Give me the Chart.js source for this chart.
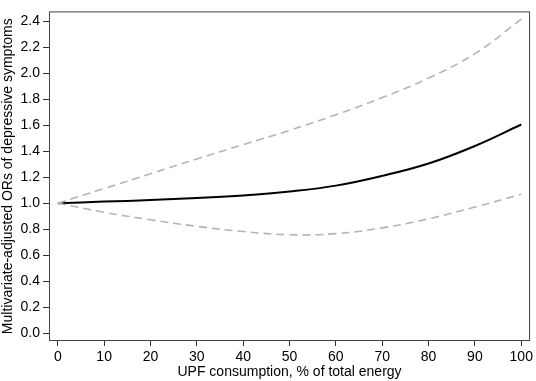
<!DOCTYPE html>
<html>
<head>
<meta charset="utf-8">
<script src="https://cdn.jsdelivr.net/npm/chart.js@4.4.0/dist/chart.umd.min.js"></script>
<style>
  html, body { margin: 0; padding: 0; background: #fff; }
  #wrap { width: 536px; height: 381px; position: relative; }
</style>
</head>
<body>
<div id="wrap"><canvas id="chart" width="536" height="381"></canvas></div>
<script>
// UPF consumption (% of total energy)
const upfPct = [0, 10, 20, 30, 40, 50, 60, 70, 80, 90, 100];
// multivariate-adjusted OR and 95% CI
const orEstimate = [1.00, 1.012, 1.024, 1.04, 1.06, 1.09, 1.135, 1.21, 1.305, 1.44, 1.605];
const orUpper = [1.00, 1.113, 1.226, 1.34, 1.45, 1.56, 1.68, 1.812, 1.962, 2.15, 2.415];
const orLower = [1.00, 0.93, 0.872, 0.822, 0.782, 0.757, 0.766, 0.81, 0.88, 0.97, 1.069];

const xTicks = [0, 10, 20, 30, 40, 50, 60, 70, 80, 90, 100];
const yTicks = [0, 0.2, 0.4, 0.6, 0.8, 1.0, 1.2, 1.4, 1.6, 1.8, 2.0, 2.2, 2.4];

const pts = ys => upfPct.map((x, i) => ({ x: x, y: ys[i] }));
const FONT = "'Liberation Sans', Arial, sans-serif";

// box round the plot area
const frame = {
  id: 'frame',
  afterDraw(chart) {
    const a = chart.chartArea, ctx = chart.ctx;
    ctx.save();
    ctx.strokeStyle = '#444';
    ctx.lineWidth = 1;
    ctx.strokeRect(a.left + 0.5, a.top + 0.5, a.right - a.left - 1, a.bottom - a.top - 1);
    ctx.restore();
  }
};

const dashed = { borderColor: '#b4b4b4', borderWidth: 1.6, borderDash: [8, 5] };

new Chart(document.getElementById('chart'), {
  type: 'line',
  data: {
    datasets: [
      { data: pts(orUpper), ...dashed },
      { data: pts(orLower), ...dashed },
      { data: pts(orEstimate), borderColor: '#000', borderWidth: 2 }
    ]
  },
  options: {
    responsive: false,
    animation: false,
    layout: { padding: { top: 2, right: 4, left: 0, bottom: 0 } },
    elements: { point: { radius: 0 }, line: { tension: 0.4, fill: false } },
    plugins: { legend: { display: false }, tooltip: { enabled: false } },
    scales: {
      x: {
        type: 'linear',
        min: -1.9,
        max: 101.9,
        afterBuildTicks: s => { s.ticks = xTicks.map(v => ({ value: v })); },
        afterFit: s => { s.height = 40; },
        border: { display: false },
        grid: { drawOnChartArea: false, drawTicks: true, tickLength: 5, color: '#333' },
        ticks: { color: '#000', padding: 3, maxRotation: 0, font: { family: FONT, size: 14 } },
        title: { display: true, text: 'UPF consumption, % of total energy', color: '#000', padding: 0, font: { family: FONT, size: 14 } }
      },
      y: {
        type: 'linear',
        min: -0.06,
        max: 2.475,
        afterBuildTicks: s => { s.ticks = yTicks.map(v => ({ value: v })); },
        afterFit: s => { s.width = 49; },
        border: { display: false },
        grid: { drawOnChartArea: false, drawTicks: true, tickLength: 6, color: '#333' },
        ticks: { color: '#000', padding: 3, callback: v => v.toFixed(1), font: { family: FONT, size: 14 } },
        title: { display: true, text: 'Multivariate-adjusted ORs of depressive symptoms', color: '#000', padding: 0, font: { family: FONT, size: 14 } }
      }
    }
  },
  plugins: [frame]
});
</script>
</body>
</html>
